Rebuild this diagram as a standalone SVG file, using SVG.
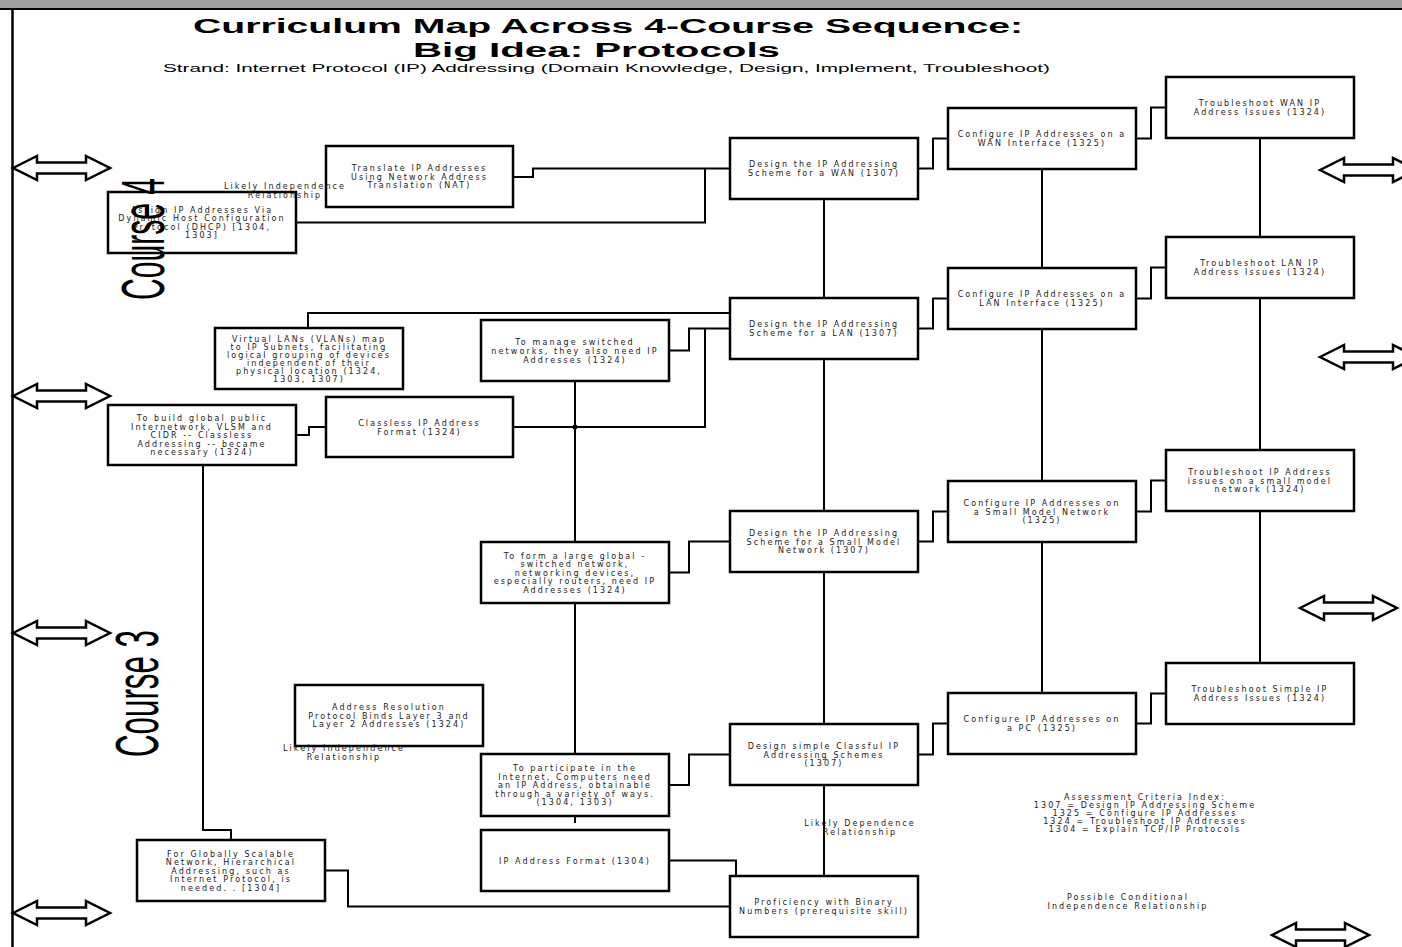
<svg xmlns="http://www.w3.org/2000/svg" xmlns:xlink="http://www.w3.org/1999/xlink" width="1402" height="947" viewBox="0 0 1402 947">
<defs>
<style>
.box{fill:#fff;stroke:#000;stroke-width:2.5}
.t{font-family:"DejaVu Sans",sans-serif;font-size:8px;letter-spacing:2.1px;text-anchor:middle;fill:#222}
.c{fill:none;stroke:#000;stroke-width:2}
.arr{fill:#fff;stroke:#000;stroke-width:2.5;stroke-linejoin:miter}
.title{font-family:"Liberation Sans",Arial,sans-serif;font-weight:bold;fill:#000}
.sub{font-family:"Liberation Sans",Arial,sans-serif;font-size:10px;fill:#000}
.course{font-family:"Liberation Sans",Arial,sans-serif;font-size:62px;fill:#000}
</style>
<path id="dbl" d="M0,0 L24,-12 L24,-5.5 L73,-5.5 L73,-12 L97,0 L73,12 L73,5.5 L24,5.5 L24,12 Z"/>
</defs>
<rect x="0" y="0" width="1402" height="947" fill="#fff"/>
<rect x="0" y="0" width="1402" height="8" fill="#a0a0a0"/>
<line x1="0" y1="9" x2="1402" y2="9" stroke="#000" stroke-width="2"/>
<line x1="12.5" y1="9" x2="12.5" y2="947" stroke="#000" stroke-width="2.5"/>

<g id="title">
<text class="title" x="193" y="33" font-size="20" textLength="830" lengthAdjust="spacingAndGlyphs">Curriculum Map Across 4-Course Sequence:</text>
<text class="title" x="413" y="57" font-size="20" textLength="367" lengthAdjust="spacingAndGlyphs">Big Idea: Protocols</text>
<text class="sub" x="163" y="72" textLength="887" lengthAdjust="spacingAndGlyphs">Strand: Internet Protocol (IP) Addressing (Domain Knowledge, Design, Implement, Troubleshoot)</text>
</g>

<g id="connectors">
<polyline class="c" points="918,168.5 933,168.5 933,138.5 948,138.5"/>
<polyline class="c" points="1136,138.5 1151,138.5 1151,107.5 1166,107.5"/>
<polyline class="c" points="918,328.5 933,328.5 933,298.5 948,298.5"/>
<polyline class="c" points="1136,298.5 1151,298.5 1151,267.5 1166,267.5"/>
<polyline class="c" points="918,541.5 933,541.5 933,511.5 948,511.5"/>
<polyline class="c" points="1136,511.5 1151,511.5 1151,480.5 1166,480.5"/>
<polyline class="c" points="918,754.5 933,754.5 933,723.5 948,723.5"/>
<polyline class="c" points="1136,723.5 1151,723.5 1151,693.5 1166,693.5"/>
<line class="c" x1="824" y1="199" x2="824" y2="298"/>
<line class="c" x1="824" y1="359" x2="824" y2="511"/>
<line class="c" x1="824" y1="572" x2="824" y2="724"/>
<line class="c" x1="824" y1="785" x2="824" y2="876"/>
<line class="c" x1="1042" y1="169" x2="1042" y2="268"/>
<line class="c" x1="1042" y1="329" x2="1042" y2="481"/>
<line class="c" x1="1042" y1="542" x2="1042" y2="693"/>
<line class="c" x1="1260" y1="138" x2="1260" y2="237"/>
<line class="c" x1="1260" y1="298" x2="1260" y2="450"/>
<line class="c" x1="1260" y1="511" x2="1260" y2="663"/>
<polyline class="c" points="513,177 533,177 533,168.5 730,168.5"/>
<polyline class="c" points="296,222.5 705,222.5 705,168.5"/>
<polyline class="c" points="308,328 308,313 730,313"/>
<polyline class="c" points="669,350.5 689,350.5 689,328.5 730,328.5"/>
<polyline class="c" points="513,427 705,427 705,328.5"/>
<polyline class="c" points="296,435 309,435 309,427 326,427"/>
<line class="c" x1="575" y1="381" x2="575" y2="542"/>
<line class="c" x1="575" y1="603" x2="575" y2="754"/>
<line class="c" x1="575" y1="816" x2="575" y2="823"/>
<circle cx="575" cy="427" r="2.5" fill="#000"/>
<polyline class="c" points="669,572.5 689,572.5 689,541.5 730,541.5"/>
<polyline class="c" points="669,785 689,785 689,754.5 730,754.5"/>
<polyline class="c" points="203,465 203,830 231,830 231,840"/>
<polyline class="c" points="325,870.5 348,870.5 348,906.5 730,906.5"/>
<polyline class="c" points="669,860.5 736,860.5 736,876"/>
</g>

<g id="n-dhcp"><rect class="box" x="108" y="192" width="188" height="61"/>
<text class="t"><tspan x="202" y="212.75">Assign IP Addresses Via</tspan><tspan x="202" y="221.25">Dynamic Host Configuration</tspan><tspan x="202" y="229.75">Protocol (DHCP) [1304,</tspan><tspan x="202" y="238.25">1303]</tspan></text></g>
<g id="n-nat"><rect class="box" x="326" y="146" width="187" height="61"/>
<text class="t"><tspan x="419.5" y="171">Translate IP Addresses</tspan><tspan x="419.5" y="179.5">Using Network Address</tspan><tspan x="419.5" y="188">Translation (NAT)</tspan></text></g>
<g id="n-dwan"><rect class="box" x="730" y="138" width="188" height="61"/>
<text class="t"><tspan x="824" y="167">Design the IP Addressing</tspan><tspan x="824" y="176">Scheme for a WAN (1307)</tspan></text></g>
<g id="n-cwan"><rect class="box" x="948" y="108" width="188" height="61"/>
<text class="t"><tspan x="1042" y="137">Configure IP Addresses on a</tspan><tspan x="1042" y="146">WAN Interface (1325)</tspan></text></g>
<g id="n-twan"><rect class="box" x="1166" y="77" width="188" height="61"/>
<text class="t"><tspan x="1260" y="106">Troubleshoot WAN IP</tspan><tspan x="1260" y="115">Address Issues (1324)</tspan></text></g>
<g id="n-dlan"><rect class="box" x="730" y="298" width="188" height="61"/>
<text class="t"><tspan x="824" y="327">Design the IP Addressing</tspan><tspan x="824" y="336">Scheme for a LAN (1307)</tspan></text></g>
<g id="n-clan"><rect class="box" x="948" y="268" width="188" height="61"/>
<text class="t"><tspan x="1042" y="297">Configure IP Addresses on a</tspan><tspan x="1042" y="306">LAN Interface (1325)</tspan></text></g>
<g id="n-tlan"><rect class="box" x="1166" y="237" width="188" height="61"/>
<text class="t"><tspan x="1260" y="266">Troubleshoot LAN IP</tspan><tspan x="1260" y="275">Address Issues (1324)</tspan></text></g>
<g id="n-vlan"><rect class="box" x="215" y="328" width="188" height="61"/>
<text class="t"><tspan x="309" y="341.5">Virtual LANs (VLANs) map</tspan><tspan x="309" y="349.5">to IP Subnets, facilitating</tspan><tspan x="309" y="357.5">logical grouping of devices</tspan><tspan x="309" y="365.5">independent of their</tspan><tspan x="309" y="373.5">physical location (1324,</tspan><tspan x="309" y="381.5">1303, 1307)</tspan></text></g>
<g id="n-manage"><rect class="box" x="481" y="320" width="188" height="61"/>
<text class="t"><tspan x="575" y="344.5">To manage switched</tspan><tspan x="575" y="353.5">networks, they also need IP</tspan><tspan x="575" y="362.5">Addresses (1324)</tspan></text></g>
<g id="n-cidr"><rect class="box" x="108" y="405" width="188" height="60"/>
<text class="t"><tspan x="202" y="421">To build global public</tspan><tspan x="202" y="429.5">Internetwork, VLSM and</tspan><tspan x="202" y="438">CIDR -- Classless</tspan><tspan x="202" y="446.5">Addressing -- became</tspan><tspan x="202" y="455">necessary (1324)</tspan></text></g>
<g id="n-classless"><rect class="box" x="326" y="397" width="187" height="60"/>
<text class="t"><tspan x="419.5" y="425.5">Classless IP Address</tspan><tspan x="419.5" y="434.5">Format (1324)</tspan></text></g>
<g id="n-dsmall"><rect class="box" x="730" y="511" width="188" height="61"/>
<text class="t"><tspan x="824" y="536">Design the IP Addressing</tspan><tspan x="824" y="544.5">Scheme for a Small Model</tspan><tspan x="824" y="553">Network (1307)</tspan></text></g>
<g id="n-csmall"><rect class="box" x="948" y="481" width="188" height="61"/>
<text class="t"><tspan x="1042" y="506">Configure IP Addresses on</tspan><tspan x="1042" y="514.5">a Small Model Network</tspan><tspan x="1042" y="523">(1325)</tspan></text></g>
<g id="n-tsmall"><rect class="box" x="1166" y="450" width="188" height="61"/>
<text class="t"><tspan x="1260" y="475">Troubleshoot IP Address</tspan><tspan x="1260" y="483.5">issues on a small model</tspan><tspan x="1260" y="492">network (1324)</tspan></text></g>
<g id="n-form"><rect class="box" x="481" y="542" width="188" height="61"/>
<text class="t"><tspan x="575" y="558.5">To form a large global -</tspan><tspan x="575" y="567">switched network,</tspan><tspan x="575" y="575.5">networking devices,</tspan><tspan x="575" y="584">especially routers, need IP</tspan><tspan x="575" y="592.5">Addresses (1324)</tspan></text></g>
<g id="n-arp"><rect class="box" x="295" y="685" width="188" height="61"/>
<text class="t"><tspan x="389" y="710">Address Resolution</tspan><tspan x="389" y="718.5">Protocol Binds Layer 3 and</tspan><tspan x="389" y="727">Layer 2 Addresses (1324)</tspan></text></g>
<g id="n-dpc"><rect class="box" x="730" y="724" width="188" height="61"/>
<text class="t"><tspan x="824" y="749">Design simple Classful IP</tspan><tspan x="824" y="757.5">Addressing Schemes</tspan><tspan x="824" y="766">(1307)</tspan></text></g>
<g id="n-cpc"><rect class="box" x="948" y="693" width="188" height="61"/>
<text class="t"><tspan x="1042" y="722">Configure IP Addresses on</tspan><tspan x="1042" y="731">a PC (1325)</tspan></text></g>
<g id="n-tpc"><rect class="box" x="1166" y="663" width="188" height="61"/>
<text class="t"><tspan x="1260" y="692">Troubleshoot Simple IP</tspan><tspan x="1260" y="701">Address Issues (1324)</tspan></text></g>
<g id="n-participate"><rect class="box" x="481" y="754" width="188" height="62"/>
<text class="t"><tspan x="575" y="771">To participate in the</tspan><tspan x="575" y="779.5">Internet, Computers need</tspan><tspan x="575" y="788">an IP Address, obtainable</tspan><tspan x="575" y="796.5">through a variety of ways.</tspan><tspan x="575" y="805">(1304, 1303)</tspan></text></g>
<g id="n-ipformat"><rect class="box" x="481" y="830" width="188" height="61"/>
<text class="t"><tspan x="575" y="863.5">IP Address Format (1304)</tspan></text></g>
<g id="n-global"><rect class="box" x="137" y="840" width="188" height="61"/>
<text class="t"><tspan x="231" y="856.5">For Globally Scalable</tspan><tspan x="231" y="865">Network, Hierarchical</tspan><tspan x="231" y="873.5">Addressing, such as</tspan><tspan x="231" y="882">Internet Protocol, is</tspan><tspan x="231" y="890.5">needed. . [1304]</tspan></text></g>
<g id="n-binary"><rect class="box" x="730" y="876" width="188" height="61"/>
<text class="t"><tspan x="824" y="905">Proficiency with Binary</tspan><tspan x="824" y="914">Numbers (prerequisite skill)</tspan></text></g>

<g id="labels">
<text class="t"><tspan x="285" y="189">Likely Independence</tspan><tspan x="285" y="198">Relationship</tspan></text>
<text class="t"><tspan x="344" y="751">Likely Independence</tspan><tspan x="344" y="760">Relationship</tspan></text>
<text class="t"><tspan x="860" y="826">Likely Dependence</tspan><tspan x="860" y="835">Relationship</tspan></text>
<text class="t"><tspan x="1145" y="800">Assessment Criteria Index:</tspan><tspan x="1145" y="808">1307 = Design IP Addressing Scheme</tspan><tspan x="1145" y="816">1325 = Configure IP Addresses</tspan><tspan x="1145" y="824">1324 = Troubleshoot IP Addresses</tspan><tspan x="1145" y="832">1304 = Explain TCP/IP Protocols</tspan></text>
<text class="t"><tspan x="1128" y="900">Possible Conditional</tspan><tspan x="1128" y="909">Independence Relationship</tspan></text>
</g>

<g id="course-labels">
<text class="course" transform="translate(164,300) rotate(-90)" textLength="122" lengthAdjust="spacingAndGlyphs">Course 4</text>
<text class="course" transform="translate(158,757) rotate(-90)" textLength="127" lengthAdjust="spacingAndGlyphs">Course 3</text>
</g>

<g id="arrows">
<use xlink:href="#dbl" class="arr" transform="translate(13,168)"/>
<use xlink:href="#dbl" class="arr" transform="translate(13,396)"/>
<use xlink:href="#dbl" class="arr" transform="translate(13,633)"/>
<use xlink:href="#dbl" class="arr" transform="translate(13,913)"/>
<use xlink:href="#dbl" class="arr" transform="translate(1320,170)"/>
<use xlink:href="#dbl" class="arr" transform="translate(1320,357)"/>
<use xlink:href="#dbl" class="arr" transform="translate(1300,608)"/>
<use xlink:href="#dbl" class="arr" transform="translate(1272,935)"/>
</g>
</svg>
